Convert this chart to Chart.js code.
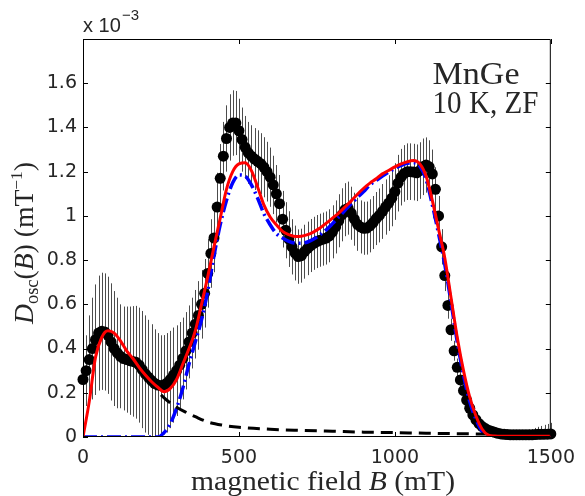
<!DOCTYPE html>
<html lang="en">
<head>
    <meta charset="UTF-8">
    <title>MnGe field distribution</title>
    <script src="https://cdn.jsdelivr.net/npm/chart.js"></script>
    <style>
        body { margin: 0; background: #fff; }
    </style>
</head>
<body>
    <canvas id="distChart" width="585" height="496"></canvas>
    <script>
        // measured points, mT and 1e-3 mT^-1
        const fieldB = [
            0, 10, 20, 30, 40, 50, 60, 70, 80, 90,
            100, 110, 120, 130, 140, 150, 160, 170, 180, 190,
            200, 210, 220, 230, 240, 250, 260, 270, 280, 290,
            300, 310, 320, 330, 340, 350, 360, 370, 380, 390,
            400, 410, 420, 430, 440, 450, 460, 470, 480, 490,
            500, 510, 520, 530, 540, 550, 560, 570, 580, 590,
            600, 610, 620, 630, 640, 650, 660, 670, 680, 690,
            700, 710, 720, 730, 740, 750, 760, 770, 780, 790,
            800, 810, 820, 830, 840, 850, 860, 870, 880, 890,
            900, 910, 920, 930, 940, 950, 960, 970, 980, 990,
            1000, 1010, 1020, 1030, 1040, 1050, 1060, 1070, 1080, 1090,
            1100, 1110, 1120, 1130, 1140, 1150, 1160, 1170, 1180, 1190,
            1200, 1210, 1220, 1230, 1240, 1250, 1260, 1270, 1280, 1290,
            1300, 1310, 1320, 1330, 1340, 1350, 1360, 1370, 1380, 1390,
            1400, 1410, 1420, 1430, 1440, 1450, 1460, 1470, 1480, 1490,
            1500
        ];
        const dOsc = [
            0.26, 0.30, 0.35, 0.40, 0.44, 0.47, 0.478, 0.475, 0.46, 0.43,
            0.40, 0.38, 0.365, 0.355, 0.35, 0.345, 0.342, 0.338, 0.325, 0.305,
            0.285, 0.27, 0.255, 0.242, 0.235, 0.232, 0.236, 0.245, 0.26, 0.28,
            0.30, 0.325, 0.355, 0.39, 0.43, 0.47, 0.51, 0.55, 0.60, 0.65,
            0.74, 0.83, 0.90, 1.04, 1.17, 1.27, 1.35, 1.40, 1.42, 1.42,
            1.385, 1.345, 1.31, 1.285, 1.27, 1.257, 1.247, 1.236, 1.22, 1.20,
            1.175, 1.14, 1.10, 1.055, 0.985, 0.935, 0.895, 0.86, 0.832, 0.816,
            0.82, 0.838, 0.853, 0.866, 0.876, 0.884, 0.89, 0.895, 0.90, 0.91,
            0.928, 0.95, 0.978, 1.005, 1.028, 1.035, 1.012, 0.985, 0.962, 0.95,
            0.944, 0.945, 0.955, 0.97, 0.988, 1.002, 1.02, 1.04, 1.058, 1.08,
            1.11, 1.148, 1.175, 1.192, 1.20, 1.20, 1.198, 1.195, 1.205, 1.222,
            1.23, 1.222, 1.19, 1.12, 1.00, 0.86, 0.73, 0.595, 0.485, 0.39,
            0.315, 0.258, 0.21, 0.167, 0.13, 0.10, 0.078, 0.06, 0.047, 0.038,
            0.031, 0.026, 0.021, 0.017, 0.014, 0.012, 0.011, 0.01, 0.01, 0.01,
            0.01, 0.01, 0.01, 0.01, 0.01, 0.011, 0.012, 0.012, 0.013, 0.013,
            0.014
        ];
        const dErr = [
            0.12, 0.16, 0.20, 0.23, 0.25, 0.26, 0.265, 0.265, 0.265, 0.265,
            0.26, 0.25, 0.235, 0.235, 0.24, 0.245, 0.25, 0.255, 0.26, 0.265,
            0.265, 0.26, 0.255, 0.245, 0.235, 0.228, 0.225, 0.225, 0.22, 0.215,
            0.205, 0.195, 0.185, 0.175, 0.165, 0.16, 0.155, 0.155, 0.155, 0.155,
            0.155, 0.155, 0.155, 0.155, 0.155, 0.155, 0.15, 0.15, 0.148, 0.145,
            0.145, 0.145, 0.142, 0.14, 0.14, 0.14, 0.14, 0.138, 0.136, 0.135,
            0.134, 0.132, 0.13, 0.13, 0.128, 0.127, 0.126, 0.125, 0.124, 0.123,
            0.122, 0.122, 0.121, 0.12, 0.12, 0.12, 0.12, 0.12, 0.12, 0.12,
            0.12, 0.12, 0.12, 0.12, 0.12, 0.12, 0.12, 0.12, 0.12, 0.12,
            0.12, 0.12, 0.12, 0.12, 0.12, 0.122, 0.124, 0.125, 0.126, 0.127,
            0.128, 0.128, 0.128, 0.128, 0.128, 0.128, 0.128, 0.128, 0.128, 0.128,
            0.125, 0.12, 0.11, 0.10, 0.09, 0.08, 0.07, 0.06, 0.05, 0.045,
            0.04, 0.036, 0.033, 0.03, 0.028, 0.026, 0.024, 0.022, 0.021, 0.02,
            0.02, 0.02, 0.02, 0.02, 0.02, 0.02, 0.02, 0.02, 0.02, 0.02,
            0.02, 0.02, 0.022, 0.024, 0.026, 0.03, 0.034, 0.038, 0.042, 0.046,
            0.05
        ];

        // fit curves
        const fitB = [
            0, 20, 40, 60, 80, 100, 120, 140, 160, 180,
            200, 220, 240, 260, 280, 300, 320, 340, 360, 380,
            400, 420, 440, 460, 480, 500, 520, 540, 560, 580,
            600, 620, 640, 660, 680, 700, 720, 740, 760, 780,
            800, 820, 840, 860, 880, 900, 920, 940, 960, 980,
            1000, 1020, 1040, 1060, 1080, 1100, 1120, 1140, 1160, 1180,
            1200, 1220, 1240, 1260, 1280, 1300, 1320, 1340, 1360, 1380,
            1400, 1420, 1440, 1460, 1480, 1500
        ];
        const fitTotal = [
            0.0, 0.16, 0.36, 0.45, 0.48, 0.47, 0.435, 0.39, 0.355, 0.315,
            0.28, 0.25, 0.225, 0.205, 0.22, 0.26, 0.33, 0.40, 0.48, 0.60,
            0.725, 0.86, 0.99, 1.12, 1.20, 1.235, 1.24, 1.205, 1.13, 1.05,
            0.995, 0.96, 0.93, 0.915, 0.907, 0.908, 0.915, 0.928, 0.945, 0.967,
            0.99, 1.013, 1.04, 1.068, 1.098, 1.125, 1.148, 1.168, 1.19, 1.205,
            1.222, 1.235, 1.245, 1.25, 1.235, 1.18, 1.07, 0.94, 0.81, 0.63,
            0.45, 0.30, 0.18, 0.095, 0.035, 0.008, 0.004, 0.003, 0.003, 0.003,
            0.003, 0.003, 0.003, 0.003, 0.003, 0.003
        ];
        const fitMain = [
            0, 0, 0, 0, 0, 0, 0, 0, 0, 0,
            0, 0, 0, 0.02, 0.06, 0.13, 0.22, 0.33, 0.43, 0.53,
            0.66, 0.82, 0.96, 1.07, 1.15, 1.185, 1.18, 1.14, 1.08, 1.01,
            0.96, 0.92, 0.90, 0.885, 0.877, 0.876, 0.882, 0.895, 0.915, 0.937,
            0.965, 0.995, 1.025, 1.055, 1.083, 1.11, 1.14, 1.16, 1.18, 1.198,
            1.215, 1.228, 1.238, 1.24, 1.225, 1.165, 1.05, 0.92, 0.78, 0.61,
            0.43, 0.28, 0.16, 0.08, 0.025, 0, 0, 0, 0, 0,
            0, 0, 0, 0, 0, 0
        ];
        const tailB = [250, 270, 300, 330, 360, 400, 450, 500, 600, 700, 800, 900, 1000, 1100, 1200, 1300, 1400, 1500];
        const tail = [0.19, 0.165, 0.135, 0.112, 0.092, 0.068, 0.053, 0.044, 0.035, 0.030, 0.026, 0.022, 0.020, 0.017, 0.015, 0.013, 0.011, 0.010];

        const serif = '"Liberation Serif", "Times New Roman", serif';
        const textColor = '#262626';

        function pts(xs, ys) {
            return xs.map((x, i) => ({ x: x, y: ys[i] }));
        }

        // text made of runs with different fonts, stretched to a width
        function drawRuns(ctx, runs, x, y, width, align) {
            let total = 0;
            runs.forEach(r => {
                ctx.font = r.font;
                r.w = ctx.measureText(r.text).width;
                total += r.w;
            });
            const sx = width ? width / total : 1;
            ctx.save();
            ctx.translate(x, y);
            ctx.scale(sx, 1);
            let cx = align === 'center' ? -total / 2 : 0;
            runs.forEach(r => {
                ctx.font = r.font;
                ctx.fillText(r.text, cx, r.dy || 0);
                cx += r.w;
            });
            ctx.restore();
        }

        const errorBars = {
            id: 'errorBars',
            beforeDatasetsDraw(chart) {
                const { ctx, scales: { x, y } } = chart;
                ctx.save();
                ctx.strokeStyle = 'rgba(0,0,0,0.7)';
                ctx.lineWidth = 1;
                ctx.beginPath();
                fieldB.forEach((b, i) => {
                    const px = Math.round(x.getPixelForValue(b)) + 0.5;
                    ctx.moveTo(px, y.getPixelForValue(dOsc[i] + dErr[i]));
                    ctx.lineTo(px, y.getPixelForValue(Math.max(0, dOsc[i] - dErr[i])));
                });
                ctx.stroke();
                ctx.restore();
            }
        };

        const frame = {
            id: 'frame',
            afterDraw(chart) {
                const { ctx, chartArea: a, scales: { x, y } } = chart;
                const tl = 5;
                ctx.save();
                ctx.strokeStyle = '#000';
                ctx.lineWidth = 1;
                ctx.beginPath();
                ctx.rect(a.left + 0.5, a.top + 0.5, a.right - a.left - 1, a.bottom - a.top - 1);
                x.ticks.forEach(t => {
                    const px = Math.round(x.getPixelForValue(t.value)) + 0.5;
                    ctx.moveTo(px, a.bottom); ctx.lineTo(px, a.bottom - tl);
                    ctx.moveTo(px, a.top); ctx.lineTo(px, a.top + tl);
                });
                y.ticks.forEach(t => {
                    const py = Math.round(y.getPixelForValue(t.value)) + 0.5;
                    ctx.moveTo(a.left, py); ctx.lineTo(a.left + tl, py);
                    ctx.moveTo(a.right, py); ctx.lineTo(a.right - tl, py);
                });
                ctx.stroke();

                ctx.fillStyle = textColor;
                ctx.textBaseline = 'alphabetic';
                ctx.textAlign = 'left';

                // exponent above the y axis
                ctx.font = '20px "Liberation Sans", Arial, sans-serif';
                ctx.fillText('x 10', 83, 32);
                ctx.font = '15px "Liberation Sans", Arial, sans-serif';
                ctx.fillText('\u22123', 122, 20);

                // x title
                drawRuns(ctx, [
                    { text: 'magnetic field ', font: '27px ' + serif },
                    { text: 'B', font: 'italic 27px ' + serif },
                    { text: ' (mT)', font: '27px ' + serif }
                ], 323, 490, 264, 'center');

                // y title
                ctx.save();
                ctx.translate(33, 243);
                ctx.rotate(-Math.PI / 2);
                drawRuns(ctx, [
                    { text: 'D', font: 'italic 27px ' + serif },
                    { text: 'osc', font: '18px ' + serif, dy: 5 },
                    { text: '(', font: '27px ' + serif },
                    { text: 'B', font: 'italic 27px ' + serif },
                    { text: ') (mT', font: '27px ' + serif },
                    { text: '\u22121', font: '17px ' + serif, dy: -11 },
                    { text: ')', font: '27px ' + serif }
                ], 0, 0, 162, 'center');
                ctx.restore();

                // sample note
                drawRuns(ctx, [{ text: 'MnGe', font: '31px ' + serif }], 432.5, 83.5, 87);
                drawRuns(ctx, [{ text: '10 K, ZF', font: '31px ' + serif }], 432.5, 113, 106);
                ctx.restore();
            }
        };

        const tickFont = { family: '"DejaVu Sans", sans-serif', size: 19 };

        new Chart(document.getElementById('distChart'), {
            type: 'line',
            data: {
                datasets: [
                    {
                        label: 'data',
                        data: pts(fieldB, dOsc),
                        showLine: false,
                        pointRadius: 5.5,
                        pointBackgroundColor: '#000',
                        pointBorderWidth: 0,
                        clip: false,
                        order: 4
                    },
                    {
                        label: 'main',
                        data: pts(fitB, fitMain),
                        borderColor: '#0000ff',
                        borderWidth: 3.5,
                        borderDash: [14, 4, 2, 4],
                        pointRadius: 0,
                        cubicInterpolationMode: 'monotone',
                        order: 3
                    },
                    {
                        label: 'tail',
                        data: pts(tailB, tail),
                        borderColor: '#000',
                        borderWidth: 3,
                        borderDash: [12, 7],
                        pointRadius: 0,
                        cubicInterpolationMode: 'monotone',
                        order: 2
                    },
                    {
                        label: 'total',
                        data: pts(fitB, fitTotal),
                        borderColor: '#ff0000',
                        borderWidth: 3,
                        pointRadius: 0,
                        cubicInterpolationMode: 'monotone',
                        order: 1
                    }
                ]
            },
            options: {
                responsive: false,
                animation: false,
                devicePixelRatio: 1,
                events: [],
                layout: { padding: { left: 0, right: 26, top: 39, bottom: 0 } },
                plugins: {
                    legend: { display: false },
                    tooltip: { enabled: false }
                },
                scales: {
                    x: {
                        type: 'linear',
                        min: 0,
                        max: 1500,
                        grid: { display: false, drawTicks: false },
                        border: { display: false },
                        ticks: {
                            stepSize: 500,
                            padding: 10,
                            color: textColor,
                            font: tickFont,
                            maxRotation: 0,
                            callback: v => String(v)
                        },
                        afterFit: s => { s.height = 59; }
                    },
                    y: {
                        min: 0,
                        max: 1.8,
                        grid: { display: false, drawTicks: false },
                        border: { display: false },
                        ticks: {
                            stepSize: 0.2,
                            padding: 6,
                            color: textColor,
                            font: tickFont,
                            callback: v => String(Math.round(v * 10) / 10)
                        },
                        afterBuildTicks: s => { s.ticks = s.ticks.filter(t => t.value < 1.7); },
                        afterFit: s => { s.width = 83; }
                    }
                }
            },
            plugins: [errorBars, frame]
        });
    </script>
</body>
</html>
